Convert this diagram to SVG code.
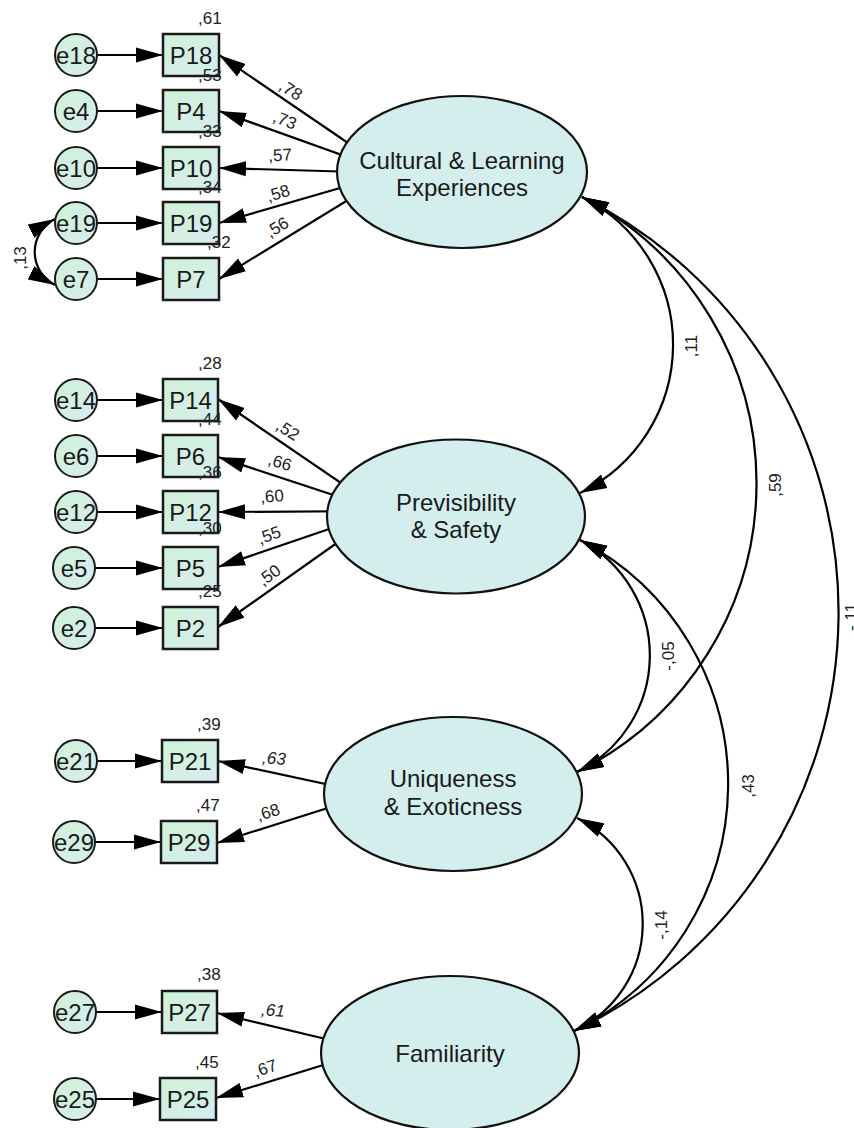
<svg xmlns="http://www.w3.org/2000/svg" width="854" height="1128" viewBox="0 0 854 1128">
<defs>
<linearGradient id="g" x1="0" y1="0" x2="1" y2="1"><stop offset="0" stop-color="#cff2d6"/><stop offset="1" stop-color="#d8ecf0"/></linearGradient>
<marker id="ah" markerUnits="userSpaceOnUse" viewBox="0 0 28 16" markerWidth="28" markerHeight="16" refX="27" refY="8" orient="auto-start-reverse"><path d="M0,0.5 L27,8 L0,15.5 z" fill="#000"/></marker>
</defs>
<style>
.n text{font-family:"Liberation Sans",Arial,sans-serif;font-size:24px;fill:#1a1a1a;text-anchor:middle}
.n text.r{font-size:17px;text-anchor:start;fill:#222}
.box{fill:url(#g);stroke:#1a1a1a;stroke-width:2.5}
.err{fill:url(#g);stroke:#1a1a1a;stroke-width:2}
.lat{fill:#d4eeed;stroke:#111;stroke-width:2.2}
.c path,.c line{fill:none;stroke:#000;stroke-width:2.2}
.a{marker-end:url(#ah)}
.b{marker-start:url(#ah);marker-end:url(#ah)}
.c text{font-family:"Liberation Sans",Arial,sans-serif;font-size:17px;fill:#222;text-anchor:middle}
.c text.i{font-style:italic}
</style>
<g id="connectors" class="c">
<line class="a" x1="97" y1="55" x2="163" y2="55"/>
<line class="a" x1="97" y1="111" x2="163" y2="111"/>
<line class="a" x1="97" y1="168" x2="163" y2="168"/>
<line class="a" x1="97" y1="223" x2="163" y2="223"/>
<line class="a" x1="97" y1="279" x2="163" y2="279"/>
<line class="a" x1="97" y1="400" x2="163" y2="400"/>
<line class="a" x1="97" y1="456" x2="163" y2="456"/>
<line class="a" x1="97" y1="512" x2="163" y2="512"/>
<line class="a" x1="95" y1="568" x2="163" y2="568"/>
<line class="a" x1="95" y1="628" x2="163" y2="628"/>
<line class="a" x1="97" y1="761" x2="162" y2="761"/>
<line class="a" x1="95" y1="842" x2="161" y2="842"/>
<line class="a" x1="96" y1="1012" x2="162" y2="1012"/>
<line class="a" x1="96" y1="1099" x2="160" y2="1099"/>
<line class="a" x1="392" y1="173" x2="219" y2="55"/>
<line class="a" x1="392" y1="173" x2="219" y2="111"/>
<line class="a" x1="392" y1="173" x2="219" y2="168"/>
<line class="a" x1="392" y1="173" x2="219" y2="223"/>
<line class="a" x1="392" y1="173" x2="219" y2="279"/>
<line class="a" x1="382" y1="511" x2="218" y2="399"/>
<line class="a" x1="382" y1="511" x2="218" y2="457"/>
<line class="a" x1="382" y1="511" x2="218" y2="512"/>
<line class="a" x1="382" y1="511" x2="218" y2="567"/>
<line class="a" x1="382" y1="511" x2="218" y2="627"/>
<line class="a" x1="372" y1="794" x2="218" y2="761"/>
<line class="a" x1="372" y1="794" x2="217" y2="843"/>
<line class="a" x1="372" y1="1050" x2="217" y2="1013"/>
<line class="a" x1="372" y1="1050" x2="216" y2="1098"/>
<path class="b" d="M582,197 A165,165 0 0 1 580,493"/>
<path class="b" d="M582,197 A322,322 0 0 1 577,772"/>
<path class="b" d="M582,197 A464,464 0 0 1 574,1031"/>
<path class="b" d="M580,540 A130,130 0 0 1 577,772"/>
<path class="b" d="M580,540 A275,275 0 0 1 574,1031"/>
<path class="b" d="M577,818 A118,118 0 0 1 574,1031"/>
<path class="b" d="M55,219 A37,37 0 0 0 55,285"/>
<text transform="translate(291,90) rotate(32)" y="6">,78</text>
<text transform="translate(285,120) rotate(21)" y="6">,73</text>
<text transform="translate(280,155) rotate(-3)" y="6">,57</text>
<text transform="translate(278,193) rotate(-17)" y="6">,58</text>
<text transform="translate(277,227) rotate(-31)" y="6">,56</text>
<text transform="translate(288,430) rotate(33)" y="6">,52</text>
<text transform="translate(280,462) rotate(17)" y="6">,66</text>
<text transform="translate(272,496) rotate(-4)" y="6">,60</text>
<text transform="translate(269,535) rotate(-20)" y="6">,55</text>
<text transform="translate(269,575) rotate(-36)" y="6">,50</text>
<text class="i" transform="translate(274,758) rotate(4)" y="6">,63</text>
<text transform="translate(268,812) rotate(-17)" y="6">,68</text>
<text class="i" transform="translate(273,1010) rotate(4)" y="6">,61</text>
<text transform="translate(265,1068) rotate(-19)" y="6">,67</text>
<text transform="translate(691,346) rotate(-90)" y="6">,11</text>
<text transform="translate(775,485) rotate(-90)" y="6">,59</text>
<text transform="translate(851,617) rotate(-90)" y="6">-,11</text>
<text transform="translate(668,656) rotate(-90)" y="6">-,05</text>
<text transform="translate(748,786) rotate(-90)" y="6">,43</text>
<text transform="translate(661,925) rotate(-90)" y="6">-,14</text>
<text transform="translate(20,258) rotate(-90)" y="6">,13</text>
</g>
<g id="e18" class="n"><circle class="err" cx="76" cy="55" r="21"/><text x="76" y="63.5">e18</text></g>
<g id="e4" class="n"><circle class="err" cx="76" cy="111" r="21"/><text x="76" y="119.5">e4</text></g>
<g id="e10" class="n"><circle class="err" cx="76" cy="168" r="21"/><text x="76" y="176.5">e10</text></g>
<g id="e19" class="n"><circle class="err" cx="76" cy="223" r="21"/><text x="76" y="231.5">e19</text></g>
<g id="e7" class="n"><circle class="err" cx="76" cy="279" r="21"/><text x="76" y="287.5">e7</text></g>
<g id="e14" class="n"><circle class="err" cx="76" cy="400" r="21"/><text x="76" y="408.5">e14</text></g>
<g id="e6" class="n"><circle class="err" cx="76" cy="456" r="21"/><text x="76" y="464.5">e6</text></g>
<g id="e12" class="n"><circle class="err" cx="76" cy="512" r="21"/><text x="76" y="520.5">e12</text></g>
<g id="e5" class="n"><circle class="err" cx="74" cy="568" r="21"/><text x="74" y="576.5">e5</text></g>
<g id="e2" class="n"><circle class="err" cx="74" cy="628" r="21"/><text x="74" y="636.5">e2</text></g>
<g id="e21" class="n"><circle class="err" cx="76" cy="761" r="21"/><text x="76" y="769.5">e21</text></g>
<g id="e29" class="n"><circle class="err" cx="74" cy="842" r="21"/><text x="74" y="850.5">e29</text></g>
<g id="e27" class="n"><circle class="err" cx="75" cy="1012" r="21"/><text x="75" y="1020.5">e27</text></g>
<g id="e25" class="n"><circle class="err" cx="75" cy="1099" r="21"/><text x="75" y="1107.5">e25</text></g>
<g id="P18" class="n"><rect class="box" x="163" y="34" width="56" height="42"/><text x="191" y="63.5">P18</text><text class="r" x="198" y="24">,61</text></g>
<g id="P4" class="n"><rect class="box" x="163" y="90" width="56" height="42"/><text x="191" y="119.5">P4</text><text class="r" x="198" y="81">,53</text></g>
<g id="P10" class="n"><rect class="box" x="163" y="147" width="56" height="42"/><text x="191" y="176.5">P10</text><text class="r" x="198" y="137">,33</text></g>
<g id="P19" class="n"><rect class="box" x="163" y="202" width="56" height="42"/><text x="191" y="231.5">P19</text><text class="r" x="198" y="193">,34</text></g>
<g id="P7" class="n"><rect class="box" x="163" y="258" width="56" height="42"/><text x="191" y="287.5">P7</text><text class="r" x="207" y="248">,32</text></g>
<g id="P14" class="n"><rect class="box" x="163" y="379" width="55" height="42"/><text x="190.5" y="408.5">P14</text><text class="r" x="198" y="369">,28</text></g>
<g id="P6" class="n"><rect class="box" x="163" y="435" width="55" height="42"/><text x="190.5" y="464.5">P6</text><text class="r" x="198" y="425">,44</text></g>
<g id="P12" class="n"><rect class="box" x="163" y="491" width="55" height="42"/><text x="190.5" y="520.5">P12</text><text class="r" x="198" y="478">,36</text></g>
<g id="P5" class="n"><rect class="box" x="163" y="547" width="55" height="42"/><text x="190.5" y="576.5">P5</text><text class="r" x="198" y="534">,30</text></g>
<g id="P2" class="n"><rect class="box" x="163" y="607" width="55" height="42"/><text x="190.5" y="636.5">P2</text><text class="r" x="198" y="597">,25</text></g>
<g id="P21" class="n"><rect class="box" x="162" y="740" width="56" height="42"/><text x="190" y="769.5">P21</text><text class="r" x="197" y="730">,39</text></g>
<g id="P29" class="n"><rect class="box" x="161" y="821" width="56" height="42"/><text x="189" y="850.5">P29</text><text class="r" x="196" y="811">,47</text></g>
<g id="P27" class="n"><rect class="box" x="162" y="991" width="55" height="42"/><text x="189.5" y="1020.5">P27</text><text class="r" x="197" y="980">,38</text></g>
<g id="P25" class="n"><rect class="box" x="160" y="1078" width="56" height="42"/><text x="188" y="1107.5">P25</text><text class="r" x="195" y="1068">,45</text></g>
<g id="cultural" class="n"><ellipse class="lat" cx="462" cy="172" rx="125" ry="76"/><text x="462" y="169">Cultural &amp; Learning</text><text x="462" y="196">Experiences</text></g>
<g id="previsibility" class="n"><ellipse class="lat" cx="456" cy="516.5" rx="129" ry="77"/><text x="456" y="511">Previsibility</text><text x="456" y="538">&amp; Safety</text></g>
<g id="uniqueness" class="n"><ellipse class="lat" cx="453" cy="794" rx="129" ry="77"/><text x="453" y="787">Uniqueness</text><text x="453" y="815">&amp; Exoticness</text></g>
<g id="familiarity" class="n"><ellipse class="lat" cx="450" cy="1053" rx="129" ry="77"/><text x="450" y="1062">Familiarity</text></g>
</svg>
